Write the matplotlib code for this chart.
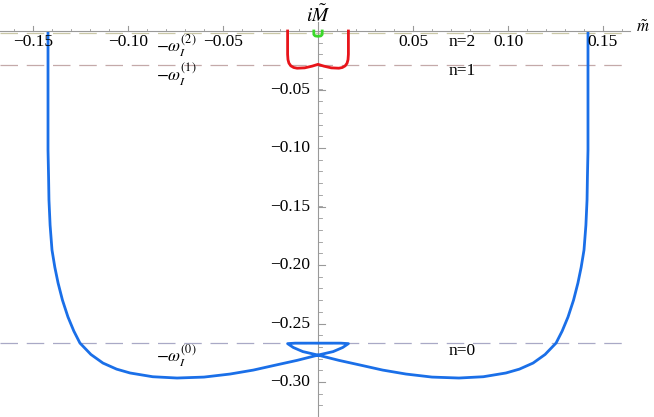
import matplotlib.pyplot as plt
import numpy as np

plt.rcParams["font.family"] = "Liberation Serif"
plt.rcParams["mathtext.fontset"] = "stix"

# level lines  -omega_I^(n)
levels = [-0.002, -0.029, -0.267]
level_names = ["n=2", "n=1", "n=0"]
level_colors = ["#c9c7a6", "#c4a9a9", "#a9a9c6"]
name_y = [-0.0095, -0.034, -0.2735]
omega_y = [-0.0125, -0.0375, -0.277]

left_x = [-0.1421, -0.1421, -0.1418, -0.1416, -0.1410, -0.1400, -0.1385, -0.1368, -0.1345,
          -0.1316, -0.1285, -0.1253, -0.1195, -0.1132, -0.1060, -0.0989, -0.0870, -0.0742,
          -0.0600, -0.0463, -0.0340, -0.0230, -0.0110, 0.0]
left_y = [-0.002, -0.1017, -0.1250, -0.1444, -0.1660, -0.1872, -0.2020, -0.2154, -0.2300,
          -0.2444, -0.2565, -0.2667, -0.2765, -0.2838, -0.2890, -0.2923, -0.2955, -0.2966,
          -0.2958, -0.2932, -0.2898, -0.2858, -0.2815, -0.2770]
loop_x = [0.008, 0.013, 0.016, 0.012, 0.0, -0.012, -0.016, -0.013, -0.008]
loop_y = [-0.2740, -0.2705, -0.2672, -0.2668, -0.2668, -0.2668, -0.2672, -0.2705, -0.2740]
blue_x = left_x + loop_x + [-v for v in left_x[::-1]]
blue_y = left_y + loop_y + left_y[::-1]

# n=1 branch (red)
red_x = [-0.016, -0.016, -0.0158, -0.0153, -0.0143, -0.0128, -0.011, -0.007, -0.003, 0.0,
         0.003, 0.007, 0.011, 0.0128, 0.0143, 0.0153, 0.0158, 0.016, 0.016]
red_y = [0.0, -0.020, -0.0245, -0.0275, -0.0298, -0.0312, -0.0318, -0.0315, -0.030, -0.0285,
         -0.030, -0.0315, -0.0318, -0.0312, -0.0298, -0.0275, -0.0245, -0.020, 0.0]

# n=2 branch (green)
green_x = [-0.0022, -0.0022, -0.0015, 0.0, 0.0015, 0.0022, 0.0022]
green_y = [0.0, -0.003, -0.0042, -0.0045, -0.0042, -0.003, 0.0]

xticks = [-0.15, -0.10, -0.05, 0.05, 0.10, 0.15]
xtick_labels = ["\u22120.15", "\u22120.10", "\u22120.05", "0.05", "0.10", "0.15"]
yticks = [-0.05, -0.10, -0.15, -0.20, -0.25, -0.30]
ytick_labels = ["\u22120.05", "\u22120.10", "\u22120.15", "\u22120.20", "\u22120.25", "\u22120.30"]

fig = plt.figure(figsize=(6.54, 4.17), dpi=100)
ax = fig.add_axes([0, 0, 1, 1])
ax.set_xlim(-318 / 1900, (654 - 318) / 1900)
ax.set_ylim(-(417 - 31) / 1170, 31 / 1170)
ax.axis("off")

x_end = 0.164
for lv, name, col, ny in zip(levels, level_names, level_colors, name_y):
    ax.plot([-0.1674, x_end], [lv, lv], color=col, lw=0.9, dashes=(14, 7))
    ax.text(0.076, ny, name, fontsize=12.5, ha="center", va="center")

for k, oy in zip([2, 1, 0], omega_y):
    ax.text(-0.0745, oy, r"$-\omega_I^{(%d)}$" % k, fontsize=12.5, ha="center", va="center")

# axes
ax.plot([-0.1674, x_end], [0, 0], color="#999999", lw=0.8)
ax.plot([0, 0], [0.008, -0.33], color="#999999", lw=0.8)
for t, lab in zip(xticks, xtick_labels):
    ax.plot([t, t], [0, 0.004], color="#999999", lw=0.8)
    ax.text(t, -0.0095, lab, fontsize=12.5, ha="center", va="center")
for t in np.arange(-0.16, 0.161, 0.01):
    ax.plot([t, t], [0, 0.002], color="#999999", lw=0.6)
for t, lab in zip(yticks, ytick_labels):
    ax.plot([0, 0.0035], [t, t], color="#999999", lw=0.8)
    ax.text(-0.004, t, lab, fontsize=12.5, ha="right", va="center")
for t in np.arange(-0.32, 0.0, 0.01):
    ax.plot([0, 0.002], [t, t], color="#999999", lw=0.6)

ax.text(0.0, 0.0135, r"$i\tilde{M}$", fontsize=14, ha="center", va="center")
ax.text(0.171, 0.0025, r"$\tilde{m}$", fontsize=12, ha="center", va="center")

ax.plot(blue_x, blue_y, color="#1a6fe8", lw=2)
ax.plot(red_x, red_y, color="#e8141a", lw=2)
ax.plot(green_x, green_y, color="#3ad82a", lw=2)

fig.savefig("out.png", dpi=100)
